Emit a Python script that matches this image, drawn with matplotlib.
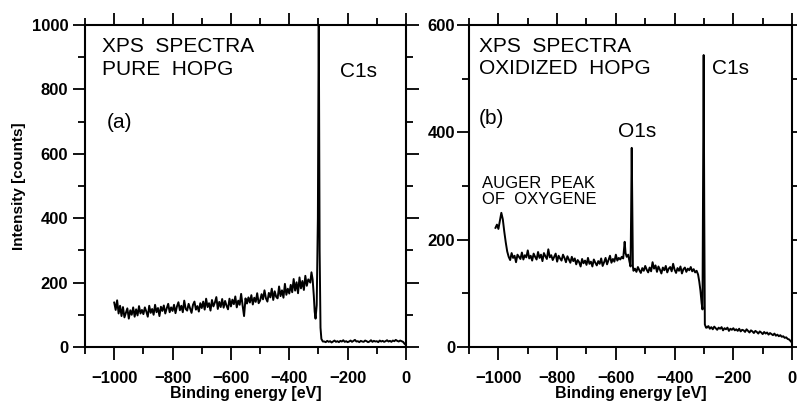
import numpy as np
import matplotlib
matplotlib.use("Agg")
import matplotlib.pyplot as plt
from matplotlib.ticker import MultipleLocator

plt.rcParams['font.family'] = ['Liberation Sans', 'DejaVu Sans']

# ---- panel (a): pure HOPG ----
# background read every 5 eV from -1000 to -335
bg_a = [138, 115, 145, 104, 128, 96, 124, 92, 106, 120, 88, 114, 100, 123, 94, 117, 98, 127, 104, 115,
        102, 123, 110, 94, 128, 106, 118, 100, 131, 108, 121, 96, 125, 112, 129, 104, 120, 134, 108, 123,
        112, 131, 105, 126, 139, 114, 128, 108, 144, 118, 113, 134, 120, 106, 131, 141, 116, 127, 110, 136,
        121, 141, 116, 150, 124, 136, 113, 146, 126, 138, 155, 118, 140, 124, 149, 122, 143, 128, 117, 150,
        126, 147, 133, 157, 123, 144, 131, 165, 129, 96, 151, 135, 154, 138, 161, 132, 153, 140, 167, 136,
        144, 164, 148, 176, 151, 141, 168, 154, 181, 146, 173, 156, 151, 188, 158, 176, 153, 196, 162, 181,
        166, 193, 170, 211, 175, 201, 167, 216, 182, 205, 177, 221, 190, 210]
peak_e_a = [-328, -324, -320, -316, -313, -310, -306, -302, -299, -296, -293, -290, -285]
peak_c_a = [200, 232, 210, 160, 110, 88, 130, 400, 1050, 300, 60, 25, 17]
# tail every 5 eV from -280 to 0
tail_a = [17, 15, 19, 16, 18, 14, 17, 20, 16, 18, 15, 19, 17, 21, 16, 18, 15, 17, 20, 16,
          19, 22, 17, 18, 15, 19, 17, 16, 20, 18, 15, 17, 21, 16, 19, 17, 18, 15, 20, 17,
          19, 16, 18, 21, 17, 19, 16, 20, 18, 22, 19, 17, 20, 18, 16, 10, 6]

# ---- panel (b): oxidized HOPG ----
auger_e = [-1010, -1005, -1000, -995, -990, -985, -980, -975, -970, -965]
auger_c = [222, 228, 220, 235, 250, 238, 215, 195, 178, 168]
# every 5 eV from -960 to -580
bg1_b = [162, 175, 166, 170, 158, 172, 168, 164, 176, 163, 171, 167, 180, 165, 170, 161, 174, 168, 163, 177,
         166, 172, 160, 175, 169, 164, 182, 167, 171, 162, 168, 174, 159, 170, 165, 161, 172, 166, 158, 169,
         163, 157, 168, 160, 165, 154, 162, 158, 150, 164, 156, 161, 153, 166, 155, 159, 150, 163, 157, 152,
         160, 155, 165, 151, 158, 166, 154, 162, 170, 157, 164, 159, 172, 161, 166, 163, 168]
o1s_e = [-575, -570, -567, -563, -558, -554, -550, -548, -546, -544, -542, -540]
o1s_c = [165, 196, 175, 168, 172, 160, 150, 250, 371, 250, 150, 142]
# every 5 eV from -535 to -325
bg2_b = [146, 140, 149, 143, 138, 147, 142, 151, 144, 139, 148, 141, 158, 146, 152, 140, 150, 144, 137, 148,
         143, 151, 139, 146, 149, 141, 155, 144, 138, 147, 142, 150, 137, 145, 148, 140, 146, 143, 149, 141,
         145, 139, 142]
c1s_e = [-320, -316, -312, -308, -305, -303, -301, -299, -297, -293]
c1s_c = [135, 122, 105, 82, 70, 300, 544, 250, 42, 36]
# every 5 eV from -290 to 0
tail_b = [36, 39, 34, 37, 33, 38, 35, 32, 36, 34, 37, 31, 35, 33, 36, 30, 34, 32, 35, 31,
          33, 30, 34, 29, 32, 31, 28, 33, 30, 27, 31, 29, 26, 30, 28, 25, 29, 27, 24, 28,
          25, 27, 23, 26, 24, 22, 25, 21, 23, 20, 22, 19, 20, 17, 18, 15, 14, 11, 8]

energy_a = np.concatenate([np.arange(-1000, -330, 5), peak_e_a, np.arange(-280, 1, 5)])
counts_a = np.concatenate([bg_a, peak_c_a, tail_a])

energy_b = np.concatenate([auger_e, np.arange(-960, -575, 5), o1s_e,
                           np.arange(-535, -320, 5), c1s_e, np.arange(-290, 1, 5)])
counts_b = np.concatenate([auger_c, bg1_b, o1s_c, bg2_b, c1s_c, tail_b])

fig = plt.figure(figsize=(7.97, 4.01), dpi=100)
ax_a = fig.add_axes([0.1067, 0.1347, 0.4027, 0.803])
ax_b = fig.add_axes([0.5885, 0.1347, 0.4053, 0.803])


def style(ax, ymax, ypad):
    ax.set_xlim(-1100, 0)
    ax.set_ylim(0, ymax)
    ax.xaxis.set_major_locator(MultipleLocator(200))
    ax.xaxis.set_minor_locator(MultipleLocator(100))
    ax.yaxis.set_major_locator(MultipleLocator(200))
    ax.yaxis.set_minor_locator(MultipleLocator(100))
    ax.tick_params(which='both', direction='out', top=True, right=True,
                   width=1.3, labelsize=12)
    ax.tick_params(which='major', length=9)
    ax.tick_params(which='minor', length=5)
    ax.tick_params(axis='x', which='major', pad=8)
    ax.tick_params(axis='y', which='major', pad=ypad)
    for lab in ax.get_xticklabels() + ax.get_yticklabels():
        lab.set_fontweight('bold')
    for s in ax.spines.values():
        s.set_linewidth(1.5)
    ax.set_xlabel('Binding energy [eV]', fontsize=11.5, fontweight='bold', labelpad=0)


ax_a.plot(energy_a, counts_a, color='black', lw=1.4)
style(ax_a, 1000, 3)
ax_a.set_ylabel('Intensity [counts]', fontsize=11, fontweight='bold', labelpad=4)
ax_a.text(0.053, 0.932, 'XPS  SPECTRA', transform=ax_a.transAxes, fontsize=15, va='center')
ax_a.text(0.053, 0.862, 'PURE  HOPG', transform=ax_a.transAxes, fontsize=15, va='center')
ax_a.text(0.794, 0.854, 'C1s', transform=ax_a.transAxes, fontsize=15, va='center')
ax_a.text(0.069, 0.696, '(a)', transform=ax_a.transAxes, fontsize=15, va='center')

ax_b.plot(energy_b, counts_b, color='black', lw=1.4)
style(ax_b, 600, 1)
ax_b.text(0.031, 0.932, 'XPS  SPECTRA', transform=ax_b.transAxes, fontsize=15, va='center')
ax_b.text(0.031, 0.866, 'OXIDIZED  HOPG', transform=ax_b.transAxes, fontsize=15, va='center')
ax_b.text(0.752, 0.866, 'C1s', transform=ax_b.transAxes, fontsize=15, va='center')
ax_b.text(0.031, 0.711, '(b)', transform=ax_b.transAxes, fontsize=15, va='center')
ax_b.text(0.461, 0.668, 'O1s', transform=ax_b.transAxes, fontsize=15, va='center')
ax_b.text(0.040, 0.509, 'AUGER  PEAK', transform=ax_b.transAxes, fontsize=12, va='center')
ax_b.text(0.040, 0.457, 'OF  OXYGENE', transform=ax_b.transAxes, fontsize=12, va='center')

fig.savefig('out.png', dpi=100)
